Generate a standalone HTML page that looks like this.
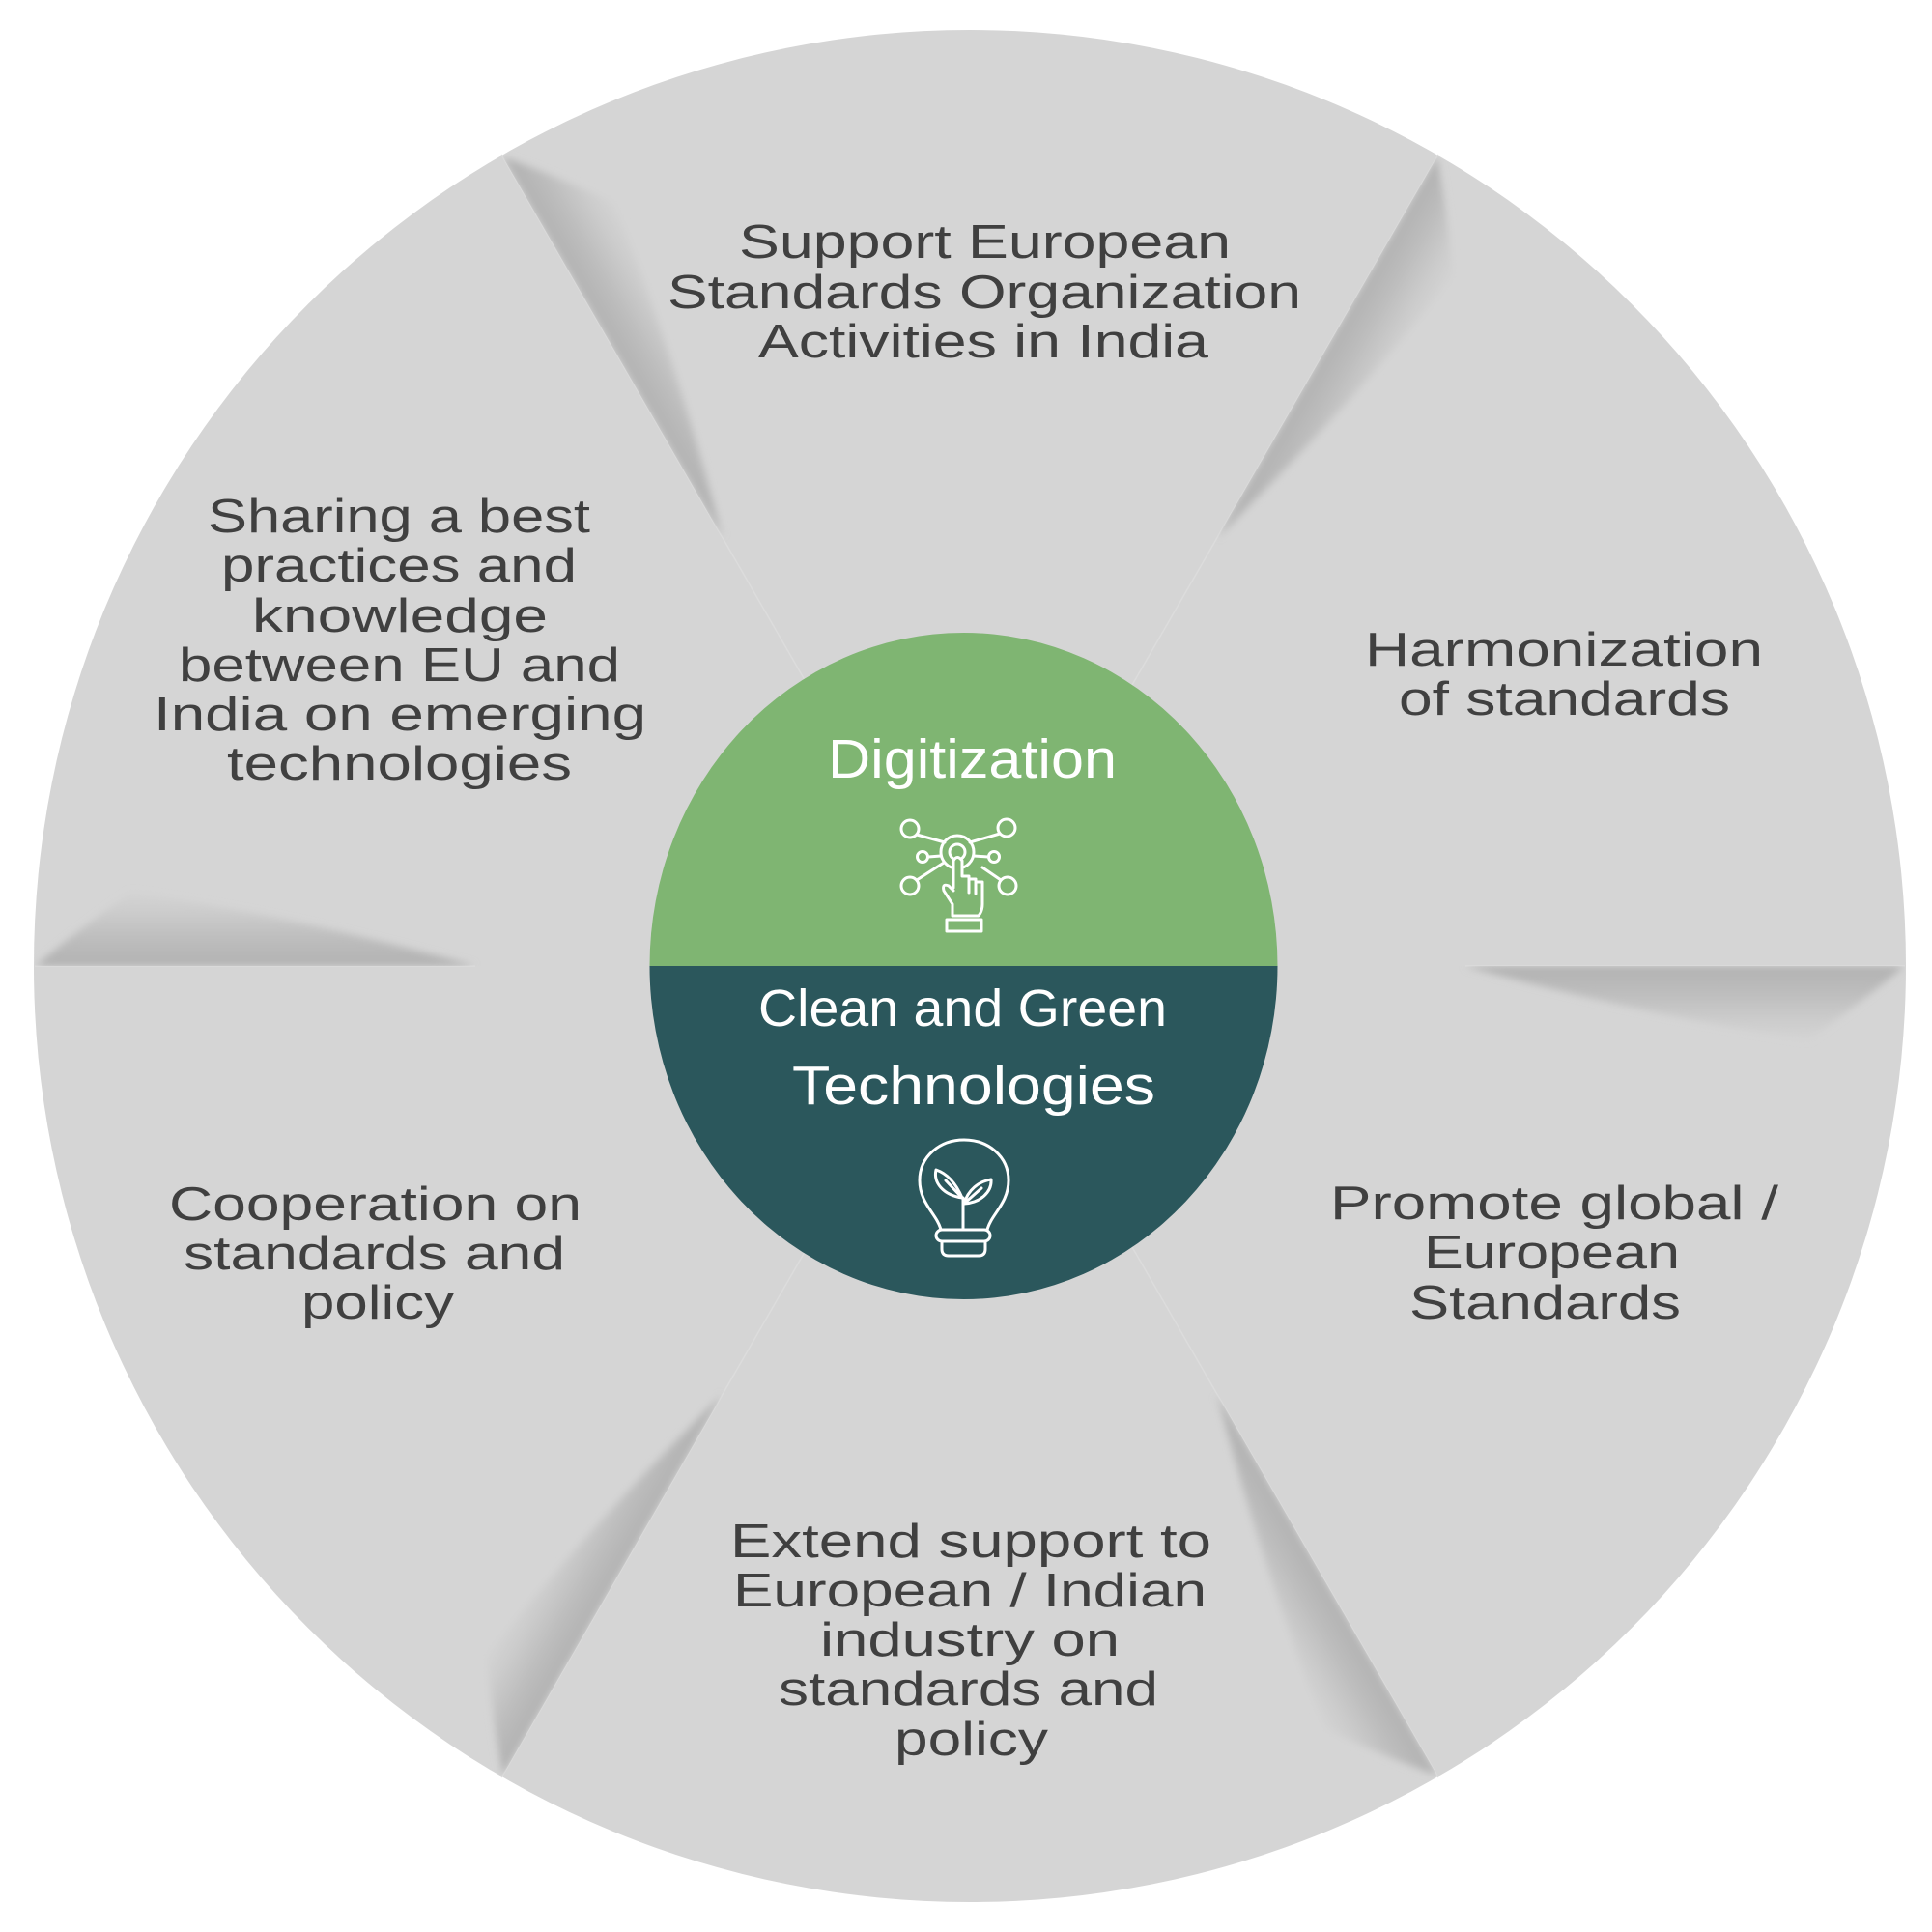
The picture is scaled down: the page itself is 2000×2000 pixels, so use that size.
<!DOCTYPE html>
<html>
<head>
<meta charset="utf-8">
<style>
  html, body { margin:0; padding:0; background:#ffffff; }
  body { width:2000px; height:2000px; overflow:hidden; }
  svg { display:block; }
  .seg { font-family:"Liberation Sans", "DejaVu Sans", sans-serif; font-size:49px; fill:#404040; }
  .inner { font-family:"Liberation Sans", "DejaVu Sans", sans-serif; fill:#ffffff; }
</style>
</head>
<body>
<svg width="2000" height="2000" viewBox="0 0 2000 2000" xmlns="http://www.w3.org/2000/svg">
  <defs>
    <linearGradient id="sg" gradientUnits="userSpaceOnUse" x1="0" y1="0" x2="0" y2="80">
      <stop offset="0" stop-color="#b2b2b2"/>
      <stop offset="0.3" stop-color="#bbbbbb"/>
      <stop offset="0.7" stop-color="#cccccc"/>
      <stop offset="1" stop-color="#d5d5d5"/>
    </linearGradient>
    <filter id="bl" x="-20%" y="-50%" width="140%" height="200%">
      <feGaussianBlur stdDeviation="4"/>
    </filter>
    <clipPath id="disc">
      <circle cx="1004" cy="1000" r="968"/>
    </clipPath>
    <clipPath id="half" clipPathUnits="userSpaceOnUse">
      <rect x="0" y="0" width="1100" height="300"/>
    </clipPath>
    <clipPath id="ellTop">
      <rect x="600" y="600" width="800" height="400"/>
    </clipPath>
    <clipPath id="ellBot">
      <rect x="600" y="1000" width="800" height="400"/>
    </clipPath>
    <g id="shadow">
      <g clip-path="url(#half)">
        <path d="M967,0 Q928,34 868,76 Q700,52 512,0 Z" fill="url(#sg)" filter="url(#bl)"/>
      </g>
    </g>
  </defs>

  <!-- main disc -->
  <circle cx="1004" cy="1000" r="969" fill="#d5d5d5"/>

  <!-- faint divider lines -->
  <g stroke="#dcdcdc" stroke-width="1.5" fill="none">
    <line x1="1004" y1="1000" x2="519" y2="160"/>
    <line x1="1004" y1="1000" x2="1489" y2="160"/>
    <line x1="1004" y1="1000" x2="519" y2="1840"/>
    <line x1="1004" y1="1000" x2="1489" y2="1840"/>
    <line x1="492" y1="1000" x2="36" y2="1000"/>
    <line x1="1517" y1="1000" x2="1972" y2="1000"/>
  </g>

  <!-- fold shadows -->
  <g clip-path="url(#disc)">
    <g transform="translate(1004,1000) rotate(0)"><use href="#shadow"/></g>
    <g transform="translate(1004,1000) rotate(60)"><use href="#shadow"/></g>
    <g transform="translate(1004,1000) rotate(120)"><use href="#shadow"/></g>
    <g transform="translate(1004,1000) rotate(180)"><use href="#shadow"/></g>
    <g transform="translate(1004,1000) rotate(240)"><use href="#shadow"/></g>
    <g transform="translate(1004,1000) rotate(300)"><use href="#shadow"/></g>
  </g>

  <!-- inner ellipse -->
  <ellipse cx="997.5" cy="1000" rx="325" ry="345" fill="#7fb572" clip-path="url(#ellTop)"/>
  <ellipse cx="997.5" cy="1000" rx="325" ry="345" fill="#2b575c" clip-path="url(#ellBot)"/>

  <!-- inner texts -->
  <text class="inner" x="857" y="805" font-size="57" textLength="299" lengthAdjust="spacingAndGlyphs">Digitization</text>
  <text class="inner" x="785" y="1062" font-size="54" textLength="423" lengthAdjust="spacingAndGlyphs">Clean and Green</text>
  <text class="inner" x="820" y="1143" font-size="57" textLength="376" lengthAdjust="spacingAndGlyphs">Technologies</text>

  <!-- digitization icon -->
  <g fill="none" stroke="#ffffff" stroke-width="3" stroke-linecap="round" stroke-linejoin="round">
    <circle cx="991" cy="882" r="17"/>
    <circle cx="991" cy="882" r="8"/>
    <circle cx="942" cy="858" r="9"/>
    <circle cx="1042" cy="857" r="9"/>
    <circle cx="955" cy="887" r="5.5"/>
    <circle cx="1029" cy="887" r="5.5"/>
    <circle cx="942" cy="917" r="9"/>
    <circle cx="1043" cy="917" r="9"/>
    <line x1="949" y1="864" x2="978" y2="872"/>
    <line x1="1035" y1="863" x2="1004" y2="872"/>
    <line x1="961" y1="887" x2="974" y2="886"/>
    <line x1="1008" y1="886" x2="1023" y2="887"/>
    <line x1="949" y1="911" x2="977" y2="893"/>
    <line x1="1036" y1="911" x2="1017" y2="898"/>
    <!-- hand -->
    <path d="M987,919 L987,891 Q991,884 996,891 L996,907 L1003,907 L1003,910 L1010,910 L1010,913 L1017,913 L1017,936 Q1017,943 1013,948 L986,948 L986,936 L977,922 Q975,914 982,917 L987,922" fill="#7fb572"/>
    <line x1="1003" y1="910" x2="1003" y2="924"/>
    <line x1="1010" y1="913" x2="1010" y2="925"/>
    <rect x="980" y="952" width="36" height="12"/>
  </g>

  <!-- bulb icon -->
  <g fill="none" stroke="#ffffff" stroke-width="3" stroke-linecap="round" stroke-linejoin="round">
    <path d="M974,1273 C970,1257 952,1246 952,1222 C952,1197 973,1180 998,1180 C1023,1180 1044,1197 1044,1222 C1044,1246 1026,1257 1022,1273"/>
    <rect x="969" y="1273" width="56" height="12" rx="6"/>
    <path d="M975,1285 L975,1293 Q975,1300 982,1300 L1013,1300 Q1020,1300 1020,1293 L1020,1285"/>
    <line x1="997" y1="1273" x2="997" y2="1240"/>
    <path d="M996,1240 C990,1226 981,1215 969,1211 C966,1224 976,1237 996,1240 Z"/>
    <line x1="996" y1="1240" x2="979" y2="1222"/>
    <path d="M998,1246 C1002,1232 1013,1223 1026,1221 C1027,1234 1015,1245 998,1246 Z"/>
    <line x1="998" y1="1246" x2="1016" y2="1230"/>
  </g>

  <!-- segment texts -->
  <g class="seg">
    <text x="765" y="267" textLength="509" lengthAdjust="spacingAndGlyphs">Support European</text>
    <text x="691" y="319" textLength="656" lengthAdjust="spacingAndGlyphs">Standards Organization</text>
    <text x="785" y="370" textLength="466" lengthAdjust="spacingAndGlyphs">Activities in India</text>

    <text x="215" y="551" textLength="396" lengthAdjust="spacingAndGlyphs">Sharing a best</text>
    <text x="229" y="602" textLength="368" lengthAdjust="spacingAndGlyphs">practices and</text>
    <text x="261" y="654" textLength="306" lengthAdjust="spacingAndGlyphs">knowledge</text>
    <text x="185" y="705" textLength="457" lengthAdjust="spacingAndGlyphs">between EU and</text>
    <text x="159" y="756" textLength="510" lengthAdjust="spacingAndGlyphs">India on emerging</text>
    <text x="235" y="807" textLength="357" lengthAdjust="spacingAndGlyphs">technologies</text>

    <text x="1413" y="689" textLength="412" lengthAdjust="spacingAndGlyphs">Harmonization</text>
    <text x="1448" y="740" textLength="343" lengthAdjust="spacingAndGlyphs">of standards</text>

    <text x="1377" y="1262" textLength="464" lengthAdjust="spacingAndGlyphs">Promote global /</text>
    <text x="1474" y="1313" textLength="265" lengthAdjust="spacingAndGlyphs">European</text>
    <text x="1459" y="1365" textLength="281" lengthAdjust="spacingAndGlyphs">Standards</text>

    <text x="175" y="1263" textLength="427" lengthAdjust="spacingAndGlyphs">Cooperation on</text>
    <text x="190" y="1314" textLength="395" lengthAdjust="spacingAndGlyphs">standards and</text>
    <text x="312" y="1365" textLength="158" lengthAdjust="spacingAndGlyphs">policy</text>

    <text x="756" y="1612" textLength="498" lengthAdjust="spacingAndGlyphs">Extend support to</text>
    <text x="759" y="1663" textLength="490" lengthAdjust="spacingAndGlyphs">European / Indian</text>
    <text x="849" y="1714" textLength="310" lengthAdjust="spacingAndGlyphs">industry on</text>
    <text x="806" y="1765" textLength="393" lengthAdjust="spacingAndGlyphs">standards and</text>
    <text x="926" y="1817" textLength="159" lengthAdjust="spacingAndGlyphs">policy</text>
  </g>
</svg>
</body>
</html>
